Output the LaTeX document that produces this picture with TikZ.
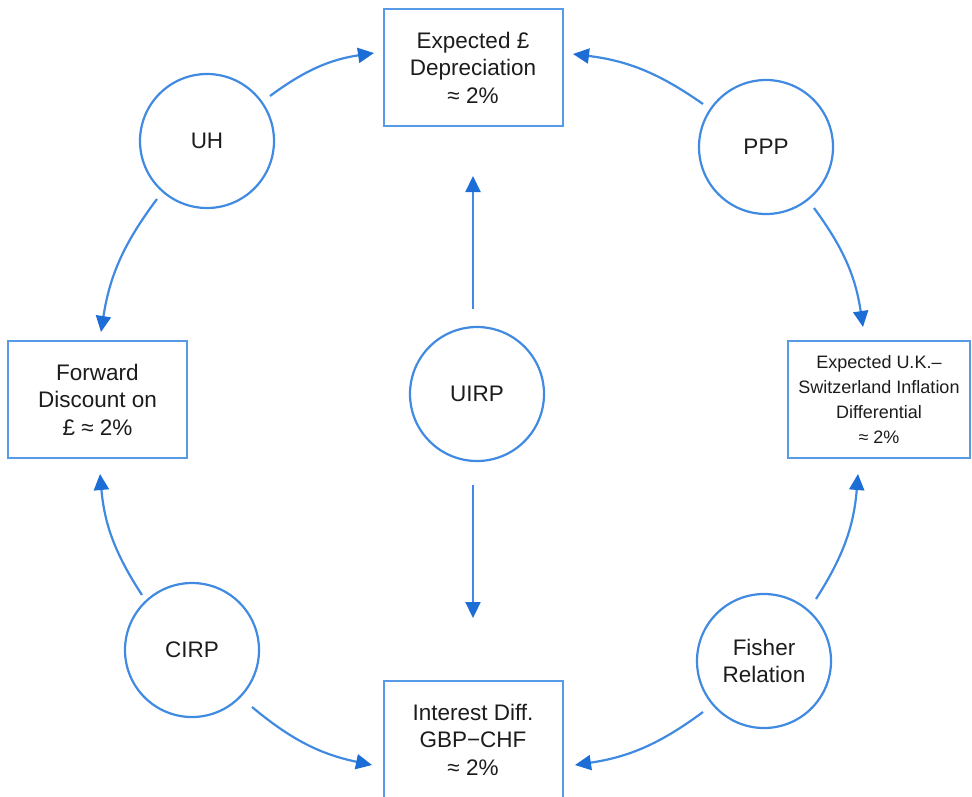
\documentclass[tikz,border=0pt]{standalone}
\usepackage{fontspec}
\setmainfont{Liberation Sans}
\usetikzlibrary{arrows.meta,calc}
\definecolor{linkblue}{RGB}{64,138,226}
\definecolor{tipblue}{RGB}{28,110,214}
\definecolor{boxblue}{RGB}{86,154,232}
\definecolor{inkgray}{RGB}{28,28,28}
\tikzset{
  x=1pt, y=1pt,
  every node/.style={text=inkgray},
  bigtext/.style={font=\fontsize{22.5}{27.5}\selectfont},
  smalltext/.style={font=\fontsize{18}{25}\selectfont},
  valuebox/.style={draw=boxblue, line width=2pt, rectangle, align=center,
    inner sep=0pt, minimum width=179pt, minimum height=117pt},
  theory/.style={draw=linkblue, line width=2.2pt, circle, align=center,
    inner sep=0pt, minimum size=134pt, bigtext},
  link/.style={draw=linkblue, line width=2.2pt,
    -{Triangle[length=16pt,width=15pt,color=tipblue]}},
}
\begin{document}
\begin{tikzpicture}
\useasboundingbox (0,0) rectangle (972,-796);

% outcome boxes
\node[valuebox, bigtext] (top) at (473,-67.5) {Expected £\\Depreciation\\≈ 2\%};
\node[valuebox, bigtext] (left) at (97.5,-399.5) {Forward\\Discount on\\£ ≈ 2\%};
\node[valuebox, smalltext, minimum width=182pt] (right) at (879,-399.5)
  {Expected U.K.–\\Switzerland Inflation\\Differential\\≈ 2\%};
\node[valuebox, bigtext] (bottom) at (473,-739.5) {Interest Diff.\\GBP−CHF\\≈ 2\%};

% parity relations
\node[theory] (UH) at (207,-141) {UH};
\node[theory] (PPP) at (766,-147) {PPP};
\node[theory] (UIRP) at (477,-394) {UIRP};
\node[theory] (CIRP) at (192,-650) {CIRP};
\node[theory] (Fisher) at (764,-661) {Fisher\\Relation};

% links around the ring
\draw[link] ($(UH)+(63,45)$) to[bend left=14] ($(top)+(-99,14.5)$);
\draw[link] ($(PPP)+(-63,43)$) to[bend right=14] ($(top)+(100,13.5)$);
\draw[link] ($(UH)+(-50,-58)$) to[bend right=14] ($(left)+(3.5,67.5)$);
\draw[link] ($(PPP)+(48,-61)$) to[bend left=14] ($(right)+(-16,72.5)$);
\draw[link] ($(CIRP)+(-50,55)$) to[bend left=14] ($(left)+(2.5,-74.5)$);
\draw[link] ($(CIRP)+(60,-57)$) to[bend right=14] ($(bottom)+(-101,-25.5)$);
\draw[link] ($(Fisher)+(52,62)$) to[bend right=14] ($(right)+(-21,-74.5)$);
\draw[link] ($(Fisher)+(-61,-51)$) to[bend left=14] ($(bottom)+(102,-25.5)$);

% UIRP links
\draw[link, shorten <=17pt, shorten >=49pt] (UIRP.north -| top.south) -- (top.south);
\draw[link, shorten <=23pt, shorten >=62pt] (UIRP.south -| bottom.north) -- (bottom.north);
\end{tikzpicture}
\end{document}
